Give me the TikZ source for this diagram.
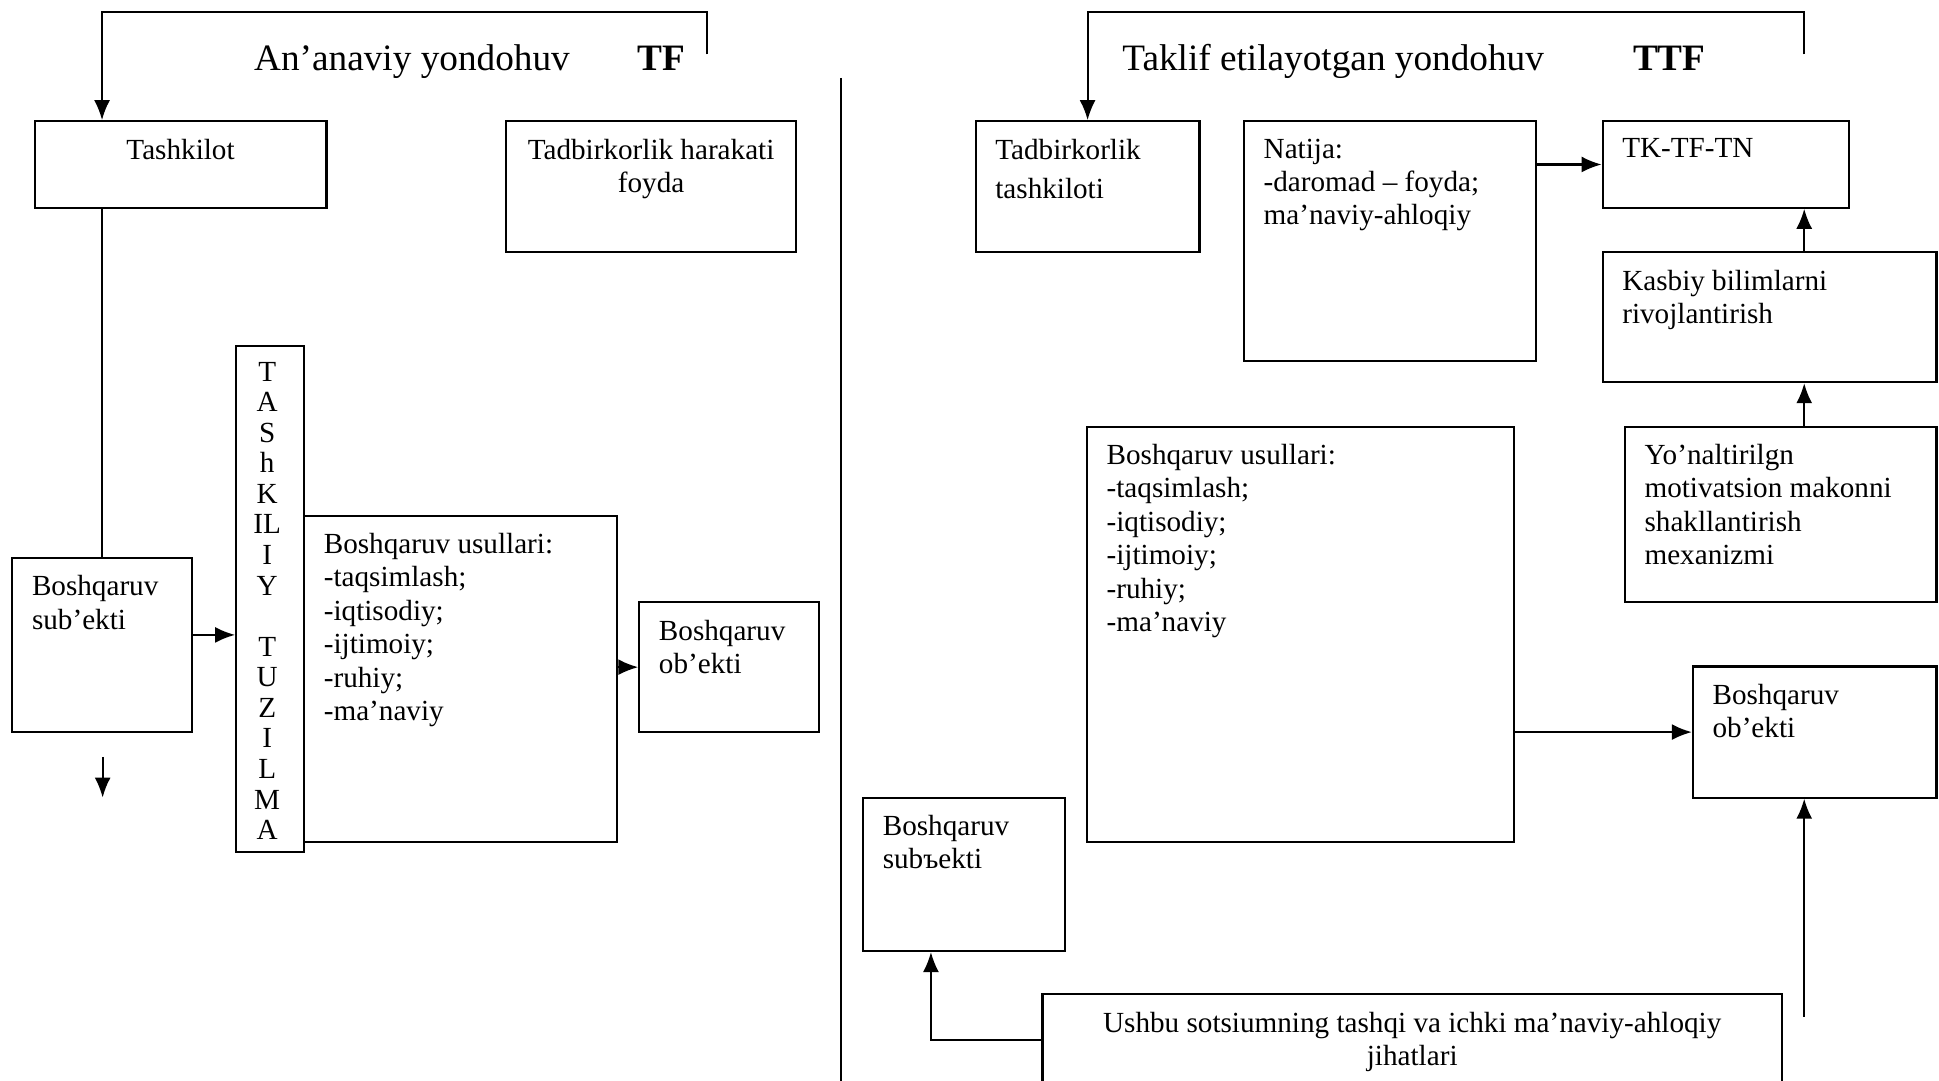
\documentclass[tikz,border=0pt]{standalone}
\usepackage{fontspec}
\setmainfont{Liberation Serif}
\usetikzlibrary{arrows.meta,fit}

\begin{document}
\begin{tikzpicture}[
  x=0.12366mm, y=-0.12366mm,
  font=\fontsize{8.3pt}{9.5pt}\selectfont,
  box/.style={draw, line width=.6pt, inner sep=0pt},
  txt/.style={anchor=north west, align=left, inner xsep=2mm, inner ysep=1.8mm},
  ctxt/.style={anchor=north, align=center, inner xsep=2mm, inner ysep=1.8mm},
  heading/.style={anchor=base west, font=\fontsize{10.6pt}{12pt}\selectfont, inner sep=0pt},
  arrow/.style={-{Latex[length=2mm,width=1.6mm]}, line width=.6pt},
  link/.style={line width=.6pt}
]
\useasboundingbox (0,0) rectangle (1568,874);

% left half: TF
\node[heading] (tfname) at (205,57) {An’anaviy yondohuv};
\node[heading, font=\fontsize{10.6pt}{12pt}\selectfont\bfseries] (tf) at (515,57) {TF};
\node[box, fit={(28,98) (264,168)}] (tashk) {};
\node[ctxt] (tashk-t) at (tashk.north) {Tashkilot};
\node[box, fit={(409,98) (644,204)}] (harakat) {};
\node[ctxt] (harakat-t) at (harakat.north) {Tadbirkorlik harakati\\foyda};
\node[box, fit={(10,451) (155,592)}] (subL) {};
\node[txt] (subL-t) at (subL.north west) {Boshqaruv\\sub’ekti};
\node[box, fit={(191,280) (246,689)}] (tuzilma) {};
\node[anchor=north, align=center, inner ysep=1.6mm, xshift=-.3mm, font=\fontsize{8.3pt}{8.7pt}\selectfont] (tuzilma-t) at (tuzilma.north)
  {T\\A\\S\\h\\K\\IL\\I\\Y\\[8.7pt]T\\U\\Z\\I\\L\\M\\A};
\node[box, fit={(246,417) (499,681)}] (usulL) {};
\node[txt] (usulL-t) at (usulL.north west) {Boshqaruv usullari:\\-taqsimlash;\\-iqtisodiy;\\-ijtimoiy;\\-ruhiy;\\-ma’naviy};
\node[box, fit={(517,487) (662,592)}] (obL) {};
\node[txt] (obL-t) at (obL.north west) {Boshqaruv\\ob’ekti};

\coordinate (tfL) at (572,44);
\coordinate (s2t) at ([yshift=1mm]subL.east);
\coordinate (dnA) at (83,612);
\coordinate (dnB) at (83,645);
\draw[arrow] (tfL) -- ++(0,-34) -| (subL.north |- tashk.north);
\draw[link] (subL.north |- tashk.south) -- (subL.north);
\draw[arrow] (s2t) -- (s2t -| tuzilma.west);
\draw[arrow] (obL.west -| usulL.east) -- (obL.west);
\draw[arrow] (dnA) -- (dnB);

% divider
\coordinate (divTop) at (680,63);
\coordinate (divBot) at (680,880);
\draw[link] (divTop) -- (divBot);

% right half: TTF
\node[heading] (ttfname) at (907,57) {Taklif etilayotgan yondohuv};
\node[heading, font=\fontsize{10.6pt}{12pt}\selectfont\bfseries] (ttf) at (1320,57) {TTF};
\node[box, fit={(789,98) (970,204)}] (tashkR) {};
\node[txt] (tashkR-t) at (tashkR.north west) {Tadbirkorlik\\[1.7pt]tashkiloti};
\node[box, fit={(1006,98) (1242,292)}] (natija) {};
\node[txt] (natija-t) at (natija.north west) {Natija:\\-daromad – foyda;\\ma’naviy-ahloqiy};
\node[box, fit={(1296,98) (1495,168)}] (tktftn) {};
\node[txt] (tktftn-t) at (tktftn.north west) {TK-TF-TN};
\node[box, fit={(1296,204) (1566,309)}] (kasbiy) {};
\node[txt] (kasbiy-t) at (kasbiy.north west) {Kasbiy bilimlarni\\rivojlantirish};
\node[box, fit={(1314,345) (1566,487)}] (yonalt) {};
\node[txt] (yonalt-t) at (yonalt.north west) {Yo’naltirilgn\\motivatsion makonni\\shakllantirish\\mexanizmi};
\node[box, fit={(879,345) (1224,681)}] (usulR) {};
\node[txt] (usulR-t) at (usulR.north west) {Boshqaruv usullari:\\-taqsimlash;\\-iqtisodiy;\\-ijtimoiy;\\-ruhiy;\\-ma’naviy};
\node[box, fit={(1369,539) (1566,645)}] (obR) {};
\node[txt] (obR-t) at (obR.north west) {Boshqaruv\\ob’ekti};
\node[box, fit={(698,645) (861,769)}] (subR) {};
\node[txt] (subR-t) at (subR.north west) {Boshqaruv\\subъekti};
\node[box, fit={(843,804) (1441,878)}] (ushbu) {};
\node[ctxt] (ushbu-t) at (ushbu.north) {Ushbu sotsiumning tashqi va ichki ma’naviy-ahloqiy\\jihatlari};

\coordinate (tfR) at (1459,44);
\coordinate (upR) at (1459,822);
\draw[arrow] (tfR) -- ++(0,-34) -| (tashkR.north);
\draw[arrow] (tktftn.west -| natija.east) -- (tktftn.west);
\draw[arrow] (kasbiy.north -| tfR) -- (tktftn.south -| tfR);
\draw[arrow] (yonalt.north -| tfR) -- (kasbiy.south -| tfR);
\draw[arrow] (obR.west -| usulR.east) -- (obR.west);
\draw[arrow] (upR) -- (obR.south -| upR);
\draw[arrow] (ushbu.west) -| ([xshift=-3.3mm]subR.south);
\end{tikzpicture}
\end{document}
